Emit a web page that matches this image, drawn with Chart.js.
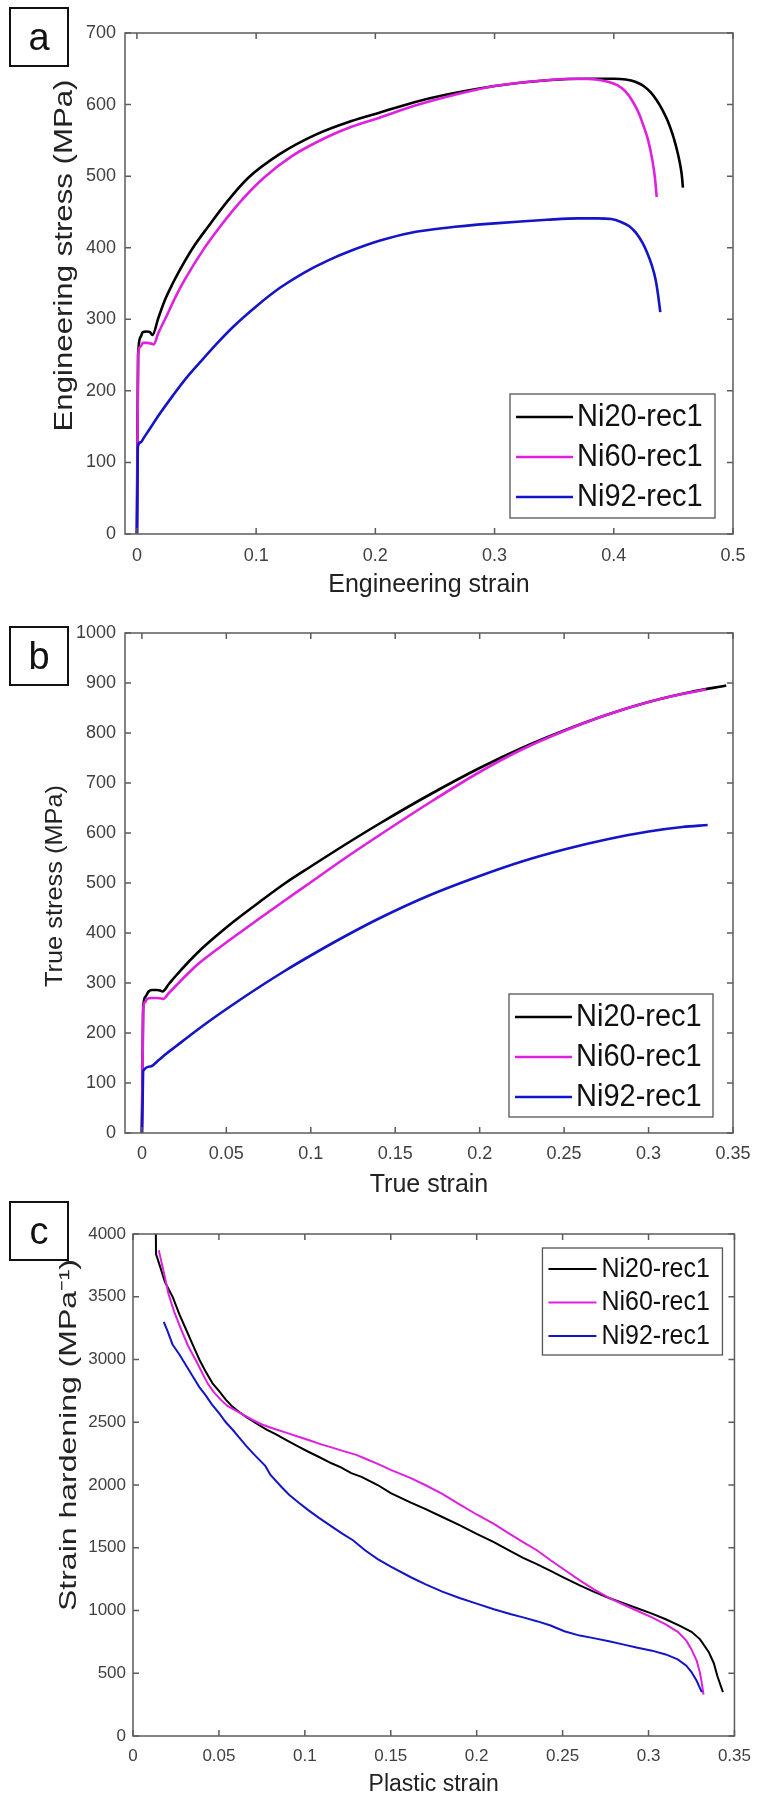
<!DOCTYPE html>
<html>
<head>
<meta charset="utf-8">
<script src="https://cdn.jsdelivr.net/npm/chart.js@4.4.1/dist/chart.umd.min.js"></script>
<style>
  body { margin: 0; background: #fff; }
  #wrap { position: relative; width: 761px; height: 1798px; }
  canvas { position: absolute; left: 0; }
  .tag {
    position: absolute; left: 9px; width: 56px; height: 56px;
    border: 2px solid #111; display: flex; align-items: center; justify-content: center;
    font: 38px Arial, "Liberation Sans", sans-serif; color: #111; line-height: 1;
  }
</style>
</head>
<body>
<div id="wrap">
  <canvas id="chartA" width="761" height="600" style="top:0"></canvas>
  <canvas id="chartB" width="761" height="600" style="top:600px"></canvas>
  <canvas id="chartC" width="761" height="598" style="top:1200px"></canvas>
  <div class="tag" style="top:7px">a</div>
  <div class="tag" style="top:626px">b</div>
  <div class="tag" style="top:1201px">c</div>
</div>
<script>
// ---- data ----
const seriesNames = ['Ni20-rec1', 'Ni60-rec1', 'Ni92-rec1'];

// (a) engineering stress-strain
const engStrain20 = [0, 0.0005, 0.001, 0.003, 0.005, 0.008, 0.011, 0.013, 0.018, 0.0235, 0.03, 0.035, 0.047, 0.06, 0.075, 0.093, 0.12, 0.15, 0.18, 0.204, 0.232, 0.26, 0.30, 0.344, 0.38, 0.40, 0.41, 0.418, 0.425, 0.431, 0.436, 0.441, 0.445, 0.449, 0.452, 0.455, 0.457, 0.458];
const engStress20 = [0, 150, 250, 275, 282, 283, 282, 278, 302, 327, 350, 366, 400, 430, 463, 497, 531, 558, 577, 589, 603, 614, 626, 634, 636, 636, 635, 632, 626, 617, 606, 592, 578, 560, 543, 522, 502, 484];
const engStrain60 = [0, 0.0005, 0.001, 0.003, 0.005, 0.009, 0.012, 0.014, 0.018, 0.025, 0.032, 0.04, 0.056, 0.07, 0.085, 0.106, 0.13, 0.16, 0.18, 0.204, 0.232, 0.26, 0.28, 0.30, 0.344, 0.37, 0.385, 0.395, 0.403, 0.41, 0.416, 0.421, 0.425, 0.429, 0.4325, 0.4345, 0.436];
const engStress60 = [0, 130, 250, 262, 267, 267, 266, 265, 281, 305, 330, 355, 398, 430, 461, 497, 528, 555, 569, 582, 598, 611, 619, 626, 634, 636, 635, 632, 627, 618, 604, 588, 570, 549, 521, 498, 471];
const engStrain92 = [0, 0.0004, 0.0008, 0.003, 0.006, 0.01, 0.02, 0.03, 0.04, 0.053, 0.067, 0.081, 0.1, 0.12, 0.14, 0.16, 0.18, 0.204, 0.23, 0.26, 0.3, 0.344, 0.37, 0.386, 0.398, 0.406, 0.413, 0.419, 0.424, 0.428, 0.432, 0.435, 0.437, 0.439];
const engStress92 = [0, 60, 122, 128, 135, 145, 170, 193, 215, 240, 266, 290, 318, 344, 365, 382, 396, 410, 421, 428, 434, 439, 441, 441, 440, 436, 430, 420, 407, 393, 375, 356, 336, 310];

// (b) true stress-strain
const trueStrain20 = [0, 0.0004, 0.0008, 0.002, 0.004, 0.006, 0.009, 0.0107, 0.0122, 0.016, 0.02, 0.027, 0.034, 0.044, 0.054, 0.07, 0.085, 0.1, 0.12, 0.1408, 0.17, 0.2, 0.225, 0.25, 0.275, 0.3, 0.325, 0.346];
const trueStress20 = [0, 140, 253, 272, 283, 286, 286, 285, 283, 298, 314, 340, 364, 394, 422, 463, 500, 533, 576, 619, 676, 730, 770, 805, 836, 862, 882, 895];
const trueStrain60 = [0, 0.0004, 0.0008, 0.002, 0.003, 0.006, 0.009, 0.0116, 0.0125, 0.016, 0.02, 0.027, 0.034, 0.044, 0.054, 0.07, 0.085, 0.0994, 0.12, 0.1408, 0.17, 0.2, 0.225, 0.25, 0.275, 0.3, 0.32, 0.334];
const trueStress60 = [0, 130, 250, 262, 268, 270, 270, 269, 268, 280, 294, 318, 340, 366, 391, 430, 466, 500, 549, 596, 660, 722, 767, 804, 836, 862, 878, 887];
const trueStrain92 = [0, 0.0004, 0.0008, 0.005, 0.01, 0.0146, 0.02, 0.03, 0.04, 0.054, 0.07, 0.085, 0.1, 0.12, 0.141, 0.17, 0.2, 0.225, 0.25, 0.275, 0.3, 0.32, 0.335];
const trueStress92 = [0, 60, 124, 133, 146, 159, 173, 199, 224, 257, 293, 325, 355, 393, 430, 475, 514, 543, 567, 587, 603, 612, 616];

// (c) strain hardening vs plastic strain
const plStrain20 = [0.0133, 0.0134, 0.016, 0.0185, 0.0232, 0.027, 0.031, 0.035, 0.0386, 0.042, 0.0463, 0.05, 0.054, 0.0578, 0.062, 0.066, 0.0732, 0.078, 0.083, 0.0895, 0.0963, 0.102, 0.108, 0.1155, 0.121, 0.127, 0.133, 0.1424, 0.15, 0.1617, 0.17, 0.18, 0.19, 0.2, 0.21, 0.218, 0.227, 0.235, 0.243, 0.251, 0.26, 0.268, 0.277, 0.285, 0.293, 0.302, 0.31, 0.318, 0.325, 0.33, 0.335, 0.338, 0.34, 0.342, 0.3433];
const harden20 = [4000, 3840, 3730, 3620, 3495, 3360, 3235, 3110, 3000, 2910, 2810, 2750, 2680, 2625, 2580, 2540, 2478, 2440, 2405, 2355, 2305, 2265, 2225, 2173, 2140, 2095, 2065, 2000, 1935, 1860, 1810, 1745, 1680, 1610, 1545, 1485, 1420, 1370, 1315, 1260, 1200, 1150, 1100, 1060, 1020, 975, 930, 880, 830, 770, 670, 580, 480, 400, 350];
const plStrain60 = [0.015, 0.0165, 0.0185, 0.0207, 0.024, 0.028, 0.032, 0.0367, 0.04, 0.0434, 0.047, 0.051, 0.055, 0.0617, 0.0694, 0.075, 0.082, 0.0895, 0.0963, 0.103, 0.11, 0.1155, 0.122, 0.13, 0.136, 0.1424, 0.15, 0.1617, 0.17, 0.18, 0.19, 0.2, 0.21, 0.218, 0.227, 0.235, 0.243, 0.251, 0.26, 0.268, 0.277, 0.285, 0.293, 0.302, 0.31, 0.317, 0.322, 0.325, 0.328, 0.33, 0.331, 0.332];
const harden60 = [3870, 3780, 3660, 3520, 3380, 3240, 3110, 2990, 2900, 2810, 2740, 2680, 2630, 2578, 2520, 2482, 2448, 2415, 2385, 2355, 2322, 2300, 2272, 2240, 2205, 2168, 2120, 2055, 2000, 1930, 1845, 1765, 1690, 1620, 1545, 1480, 1400, 1325, 1240, 1170, 1100, 1050, 1000, 945, 890, 830, 760, 690, 600, 500, 420, 330];
const plStrain92 = [0.0179, 0.02, 0.023, 0.027, 0.031, 0.035, 0.0386, 0.042, 0.046, 0.0502, 0.054, 0.058, 0.0617, 0.066, 0.07, 0.0771, 0.08, 0.0867, 0.091, 0.0963, 0.102, 0.108, 0.1155, 0.122, 0.128, 0.135, 0.1424, 0.15, 0.1617, 0.17, 0.18, 0.19, 0.2, 0.21, 0.22, 0.227, 0.235, 0.243, 0.251, 0.26, 0.268, 0.277, 0.285, 0.293, 0.302, 0.31, 0.317, 0.322, 0.325, 0.328, 0.33, 0.331];
const harden92 = [3300, 3230, 3120, 3040, 2950, 2860, 2780, 2720, 2640, 2570, 2500, 2440, 2380, 2310, 2250, 2150, 2080, 1980, 1920, 1860, 1800, 1740, 1670, 1610, 1560, 1480, 1410, 1350, 1265, 1210, 1150, 1100, 1055, 1010, 970, 945, 915, 880, 835, 800, 780, 755, 730, 705, 680, 650, 610, 560, 510, 440, 380, 350];

// tick values
const aXTicks = [0, 0.1, 0.2, 0.3, 0.4, 0.5];
const aYTicks = [0, 100, 200, 300, 400, 500, 600, 700];
const bXTicks = [0, 0.05, 0.1, 0.15, 0.2, 0.25, 0.3, 0.35];
const bYTicks = [0, 100, 200, 300, 400, 500, 600, 700, 800, 900, 1000];
const cXTicks = [0, 0.05, 0.1, 0.15, 0.2, 0.25, 0.3, 0.35];
const cYTicks = [0, 500, 1000, 1500, 2000, 2500, 3000, 3500, 4000];

// ---- drawing ----
const FONT = 'Arial, "Liberation Sans", Helvetica, sans-serif';
Chart.defaults.font.family = FONT;
const colors = ['#000000', '#e020e0', '#1414c8'];

function pts(xs, ys) {
  return xs.map((x, i) => ({x: x, y: ys[i]}));
}

function series(pairs, width, smooth) {
  return pairs.map((p, i) => ({
    label: seriesNames[i],
    data: pts(p[0], p[1]),
    borderColor: colors[i],
    borderWidth: width,
    fill: false,
    order: 3 - i,
    cubicInterpolationMode: smooth ? 'monotone' : 'default',
    tension: 0
  }));
}

// MATLAB-like box with inward ticks on all four sides
const matlabBox = {
  id: 'matlabBox',
  afterDatasetsDraw(chart) {
    const {ctx, chartArea: a, scales} = chart;
    ctx.save();
    ctx.strokeStyle = '#5c5c5c';
    ctx.lineWidth = 1.5;
    ctx.strokeRect(a.left, a.top, a.right - a.left, a.bottom - a.top);
    ctx.beginPath();
    scales.x.ticks.forEach(t => {
      const px = scales.x.getPixelForValue(t.value);
      ctx.moveTo(px, a.bottom); ctx.lineTo(px, a.bottom - 6);
      ctx.moveTo(px, a.top); ctx.lineTo(px, a.top + 6);
    });
    scales.y.ticks.forEach(t => {
      const py = scales.y.getPixelForValue(t.value);
      ctx.moveTo(a.left, py); ctx.lineTo(a.left + 6, py);
      ctx.moveTo(a.right, py); ctx.lineTo(a.right - 6, py);
    });
    ctx.stroke();
    ctx.restore();
  }
};

// legend box drawn inside the plot area
const insideLegend = {
  id: 'insideLegend',
  afterDraw(chart, args, o) {
    const {ctx, chartArea: a} = chart;
    const x = a.right - o.right - o.width;
    const y = o.top != null ? a.top + o.top : a.bottom - o.bottom - o.height;
    ctx.save();
    ctx.fillStyle = '#fff';
    ctx.fillRect(x, y, o.width, o.height);
    ctx.strokeStyle = '#555';
    ctx.lineWidth = 1.3;
    ctx.strokeRect(x, y, o.width, o.height);
    ctx.font = o.fontSize + 'px ' + FONT;
    ctx.textBaseline = 'middle';
    chart.data.datasets.forEach((ds, i) => {
      const cy = y + o.rowTop + i * o.rowGap;
      ctx.strokeStyle = ds.borderColor;
      ctx.lineWidth = ds.borderWidth;
      ctx.beginPath();
      ctx.moveTo(x + o.lineStart, cy);
      ctx.lineTo(x + o.lineStart + o.lineLen, cy);
      ctx.stroke();
      ctx.save();
      ctx.translate(x + o.textStart, cy);
      ctx.scale(1, 1.1); // the figure's text is a little taller than wide
      ctx.fillStyle = '#111';
      ctx.fillText(ds.label, 0, 0);
      ctx.restore();
    });
    ctx.restore();
  }
};

// rotated y-axis title; the original's is stretched along its length and not always centred
const sideTitle = {
  id: 'sideTitle',
  afterDraw(chart, args, o) {
    const {ctx, chartArea: a} = chart;
    ctx.save();
    ctx.font = o.size + 'px ' + FONT;
    const w = ctx.measureText(o.text).width;
    ctx.translate(o.x, (a.top + a.bottom) / 2 + o.dy);
    ctx.rotate(-Math.PI / 2);
    ctx.scale(o.length / w, 1);
    ctx.fillStyle = '#222';
    ctx.textAlign = 'center';
    ctx.textBaseline = 'middle';
    ctx.fillText(o.text, 0, 0);
    ctx.restore();
  }
};

function panel(id, p) {
  return new Chart(document.getElementById(id), {
    type: 'line',
    data: {datasets: p.datasets},
    options: {
      responsive: false,
      animation: false,
      layout: {padding: {left: 0, right: p.padRight, top: p.padTop, bottom: 0}},
      elements: {point: {radius: 0}},
      plugins: {legend: {display: false}, tooltip: {enabled: false}, insideLegend: p.legend, sideTitle: p.yTitle},
      scales: {
        x: {
          type: 'linear', min: p.xMin, max: p.xMax,
          afterBuildTicks: s => { s.ticks = p.xTicks.map(v => ({value: v})); },
          afterFit: s => { s.height = p.xAxisH; },
          grid: {display: false, drawTicks: false},
          border: {display: false},
          ticks: {padding: p.xTickPad, color: '#404040', font: {size: p.tickSize}, maxRotation: 0, autoSkip: false, callback: v => String(v)},
          title: {display: true, text: p.xTitle, color: '#222', font: {size: p.xTitleSize}, padding: {top: p.xTitlePad, bottom: 0}}
        },
        y: {
          type: 'linear', min: p.yMin, max: p.yMax,
          afterBuildTicks: s => { s.ticks = p.yTicks.map(v => ({value: v})); },
          afterFit: s => { s.width = p.yAxisW; },
          grid: {display: false, drawTicks: false},
          border: {display: false},
          ticks: {padding: p.yTickPad, color: '#404040', font: {size: p.tickSize}, autoSkip: false, callback: v => String(v)}
        }
      }
    },
    plugins: [matlabBox, insideLegend, sideTitle]
  });
}

const bigLegend = {right: 18, bottom: 16, width: 205, height: 124, rowTop: 23, rowGap: 40, lineStart: 6, lineLen: 57, textStart: 67, fontSize: 29};

panel('chartA', {
  datasets: series([[engStrain20, engStress20], [engStrain60, engStress60], [engStrain92, engStress92]], 2.6, true),
  padRight: 28, padTop: 33, yAxisW: 125, xAxisH: 66,
  xMin: -0.01, xMax: 0.5, yMin: 0, yMax: 700, xTicks: aXTicks, yTicks: aYTicks,
  tickSize: 18, xTickPad: 11, yTickPad: 9,
  xTitle: 'Engineering strain', xTitleSize: 25, xTitlePad: 0,
  yTitle: {text: 'Engineering stress (MPa)', size: 26, x: 65, dy: -28, length: 352},
  legend: bigLegend
});

panel('chartB', {
  datasets: series([[trueStrain20, trueStress20], [trueStrain60, trueStress60], [trueStrain92, trueStress92]], 2.6, true),
  padRight: 28, padTop: 33, yAxisW: 125, xAxisH: 67,
  xMin: -0.01, xMax: 0.35, yMin: 0, yMax: 1000, xTicks: bXTicks, yTicks: bYTicks,
  tickSize: 18, xTickPad: 10, yTickPad: 9,
  xTitle: 'True strain', xTitleSize: 25, xTitlePad: 0,
  yTitle: {text: 'True stress (MPa)', size: 24, x: 55, dy: 3, length: 202},
  legend: Object.assign({}, bigLegend, {right: 20, width: 204, height: 123})
});

panel('chartC', {
  datasets: series([[plStrain20, harden20], [plStrain60, harden60], [plStrain92, harden92]], 2, false),
  padRight: 20, padTop: 34, yAxisW: 133, xAxisH: 62,
  xMin: 0, xMax: 0.35, yMin: 0, yMax: 4000, xTicks: cXTicks, yTicks: cYTicks,
  tickSize: 17, xTickPad: 10, yTickPad: 7,
  xTitle: 'Plastic strain', xTitleSize: 23, xTitlePad: 3,
  yTitle: {text: 'Strain hardening (MPa\u207B\u00B9)', size: 24, x: 69, dy: -50, length: 352},
  legend: {right: 12, top: 14, width: 180, height: 107, rowTop: 21, rowGap: 33.5, lineStart: 6, lineLen: 48, textStart: 59, fontSize: 25}
});
</script>
</body>
</html>
